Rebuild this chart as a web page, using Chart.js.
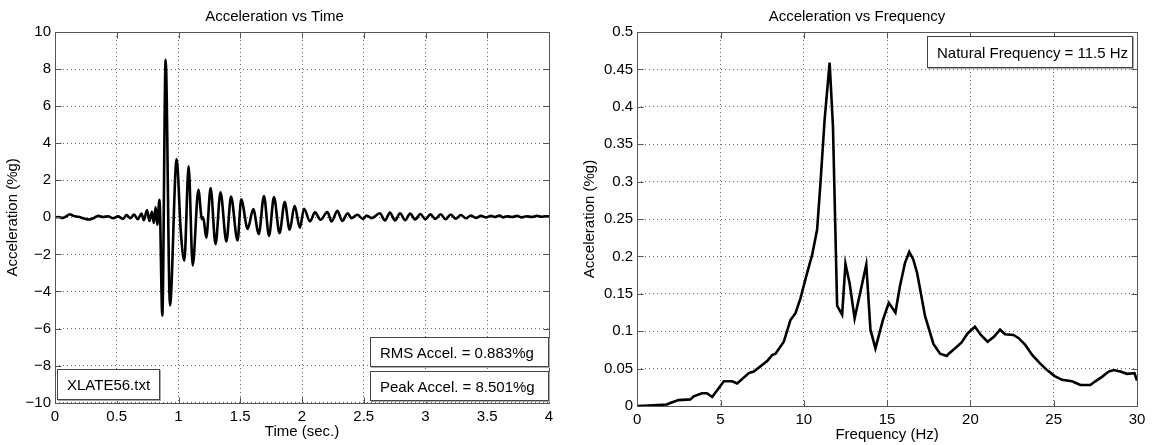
<!DOCTYPE html>
<html><head><meta charset="utf-8">
<script src="https://cdn.jsdelivr.net/npm/chart.js@4.4.1/dist/chart.umd.min.js"></script>
<style>
html,body{margin:0;padding:0;background:#fff;width:1154px;height:445px;overflow:hidden;position:relative;}
canvas{position:absolute;top:0;}
#c1{left:0}
#c2{left:577px}
.box{position:absolute;background:#fff;border:1px solid #444;box-shadow:1px 1px 0 #aaa;font:15px "Liberation Sans",Arial,sans-serif;color:#000;display:flex;align-items:center;white-space:nowrap;box-sizing:border-box;}
</style></head><body>
<canvas id="c1" width="577" height="445"></canvas>
<canvas id="c2" width="577" height="445"></canvas>
<div class="box" style="left:57px;top:369px;width:103px;height:31px;padding-left:9px">XLATE56.txt</div>
<div class="box" style="left:370px;top:337px;width:179px;height:30px;padding-left:9px">RMS Accel. = 0.883%g</div>
<div class="box" style="left:370px;top:371px;width:179px;height:30px;padding-left:9px">Peak Accel. = 8.501%g</div>
<div class="box" style="left:927px;top:36px;width:206px;height:32px;padding-left:9px">Natural Frequency = 11.5 Hz</div>
<script>
// ---- Time series (Acceleration vs Time) ----
const timeSec = [0,0.03,0.06,0.09,0.12,0.15,0.19,0.23,0.27,0.31,0.35,0.39,0.43,0.47,0.51,0.55,0.58,0.61,0.64,0.67,0.70,0.72,0.745,0.765,0.785,0.80,0.815,0.828,0.846,0.869,0.896,0.931,0.985,1.018,1.047,1.082,1.115,1.161,1.19,1.20,1.225,1.26,1.30,1.34,1.388,1.425,1.478,1.508,1.56,1.605,1.65,1.692,1.733,1.773,1.818,1.86,1.90,1.94,1.983,2.016,2.065,2.105,2.151,2.205,2.24,2.286,2.326,2.37,2.40,2.448,2.494,2.524,2.563,2.63,2.672,2.712,2.753,2.794,2.835,2.876,2.917,2.958,2.999,3.04,3.081,3.122,3.163,3.204,3.245,3.286,3.327,3.368,3.409,3.45,3.49,3.53,3.56,3.60,3.63,3.66,3.70,3.74,3.78,3.82,3.86,3.90,3.94,3.97,4.0];
const accelTime = [0,0.02,-0.03,0.05,0.17,0.08,0.03,-0.05,-0.12,-0.05,0.08,0.02,0.06,-0.05,0.05,-0.08,0.12,-0.05,0.15,-0.1,0.2,-0.15,0.4,-0.2,0.3,-0.3,0.55,-0.4,0.95,-5.3,8.5,-4.75,3.15,-0.7,-2.33,2.75,-2.6,1.48,-0.1,0.0,-1.1,1.58,-1.45,1.35,-1.3,1.12,-1.25,0.97,-0.62,0.45,-0.9,1.15,-1.0,1.1,-0.85,0.82,-0.67,0.62,-0.56,0.46,-0.22,0.27,-0.13,0.28,-0.22,0.35,-0.19,0.22,-0.04,0.14,-0.08,0.1,-0.04,0.22,-0.17,0.26,-0.17,0.22,-0.15,0.2,-0.12,0.18,-0.1,0.16,-0.09,0.17,-0.1,0.15,-0.07,0.13,-0.05,0.1,-0.03,0.08,0.0,0.08,0.02,0.1,0.0,0.06,0.02,0.08,0.0,0.06,0.02,0.08,0.03,0.05,0.05];
const timeTicks = [0,0.5,1,1.5,2,2.5,3,3.5,4];
const timeTickLabels = ['0','0.5','1','1.5','2','2.5','3','3.5','4'];
const accTicks = [-10,-8,-6,-4,-2,0,2,4,6,8,10];
const accTickLabels = ['\u221210','\u22128','\u22126','\u22124','\u22122','0','2','4','6','8','10'];

// ---- Spectrum (Acceleration vs Frequency) ----
const freqHz = [0,0.97,1.78,1.98,2.48,3.19,3.39,3.89,4.19,4.5,5.2,5.7,6.0,6.7,7.0,7.8,8.1,8.3,8.8,9.2,9.5,9.8,10.2,10.5,10.8,11.0,11.25,11.55,11.75,12.0,12.3,12.5,12.75,13.05,13.75,14.0,14.3,14.75,15.1,15.5,15.77,16.07,16.33,16.57,16.8,17.28,17.78,18.18,18.58,18.7,19.07,19.47,19.83,20.27,20.63,21.03,21.43,21.78,22.08,22.58,22.88,23.28,23.72,24.18,24.6,25.06,25.5,26.1,26.4,26.6,27.2,27.5,27.9,28.3,28.6,29.0,29.4,29.85,30];
const accelFreq = [0,0.001,0.002,0.004,0.0079,0.0088,0.013,0.017,0.017,0.012,0.033,0.033,0.030,0.044,0.046,0.060,0.068,0.070,0.086,0.115,0.124,0.144,0.178,0.202,0.236,0.298,0.383,0.459,0.374,0.134,0.122,0.190,0.164,0.117,0.189,0.102,0.077,0.115,0.138,0.125,0.160,0.191,0.206,0.196,0.178,0.120,0.083,0.070,0.067,0.070,0.077,0.085,0.097,0.106,0.095,0.086,0.093,0.102,0.096,0.095,0.091,0.082,0.068,0.057,0.048,0.040,0.035,0.033,0.030,0.028,0.028,0.033,0.039,0.046,0.048,0.046,0.043,0.044,0.034];
const freqTicks = [0,5,10,15,20,25,30];
const freqTickLabels = ['0','5','10','15','20','25','30'];
const specTicks = [0,0.05,0.1,0.15,0.2,0.25,0.3,0.35,0.4,0.45,0.5];
const specTickLabels = ['0','0.05','0.1','0.15','0.2','0.25','0.3','0.35','0.4','0.45','0.5'];

const FONT = '"Liberation Sans", Arial, sans-serif';
Chart.defaults.font.family = FONT;
Chart.defaults.color = '#000';

const frameTicks = {
  id: 'frameTicks',
  afterDraw(chart) {
    const {ctx, chartArea: a, scales} = chart;
    ctx.save();
    ctx.strokeStyle = '#555';
    ctx.lineWidth = 1;
    ctx.setLineDash([]);
    const L = Math.round(a.left) + 0.5, R = Math.round(a.right) + 0.5, T = Math.round(a.top) + 0.5, B = Math.round(a.bottom) + 0.5;
    ctx.strokeRect(L, T, R - L, B - T);
    ctx.beginPath();
    scales.x.ticks.forEach(t => {
      const p = Math.round(scales.x.getPixelForValue(t.value)) + 0.5;
      ctx.moveTo(p, B); ctx.lineTo(p, B - 6);
      ctx.moveTo(p, T); ctx.lineTo(p, T + 6);
    });
    scales.y.ticks.forEach(t => {
      const p = Math.round(scales.y.getPixelForValue(t.value)) + 0.5;
      ctx.moveTo(L, p); ctx.lineTo(L + 6, p);
      ctx.moveTo(R, p); ctx.lineTo(R - 6, p);
    });
    ctx.stroke();
    ctx.restore();
  }
};

function makeChart(id, cfg) {
  return new Chart(document.getElementById(id), {
    type: 'line',
    data: { datasets: [{
      data: cfg.xs.map((x, i) => ({x, y: cfg.ys[i]})),
      borderColor: '#000', borderWidth: 2.6, pointRadius: 0,
      tension: cfg.smooth ? 0.4 : 0,
      cubicInterpolationMode: cfg.smooth ? 'monotone' : 'default',
      fill: false
    }]},
    options: {
      responsive: false, animation: false, events: [],
      layout: { padding: { left: 0, right: cfg.padRight, top: 0, bottom: 0 } },
      plugins: {
        legend: { display: false }, tooltip: { enabled: false },
        title: { display: true, text: cfg.title, font: { size: 15, weight: 'normal' }, color: '#000', padding: { top: 8, bottom: 6 } }
      },
      scales: {
        x: {
          type: 'linear', min: cfg.xTicks[0], max: cfg.xTicks[cfg.xTicks.length - 1],
          afterBuildTicks: s => { s.ticks = cfg.xTicks.map(v => ({value: v})); },
          afterFit: s => { s.height = cfg.xAxisH; },
          ticks: { callback: (v, i) => cfg.xLabels[i], font: { size: 15 }, color: '#000', padding: 5, maxRotation: 0, autoSkip: false },
          grid: { color: '#6a6a6a', lineWidth: 1, drawTicks: false },
          border: { display: false, dash: [1, 3] },
          title: { display: true, text: cfg.xTitle, font: { size: 15 }, color: '#000', padding: { top: 0, bottom: cfg.xTitlePad } }
        },
        y: {
          type: 'linear', min: cfg.yTicks[0], max: cfg.yTicks[cfg.yTicks.length - 1],
          afterBuildTicks: s => { s.ticks = cfg.yTicks.map(v => ({value: v})); },
          afterFit: s => { s.width = cfg.yAxisW; },
          ticks: { callback: (v, i) => cfg.yLabels[i], font: { size: 15 }, color: '#000', padding: 4, autoSkip: false },
          grid: { color: '#6a6a6a', lineWidth: 1, drawTicks: false },
          border: { display: false, dash: [1, 3] },
          title: { display: true, text: 'Acceleration (%g)', font: { size: 15 }, color: '#000', padding: { top: 4, bottom: 0 } }
        }
      }
    },
    plugins: [frameTicks]
  });
}

makeChart('c1', {
  xs: timeSec, ys: accelTime, smooth: true, title: 'Acceleration vs Time', xTitle: 'Time (sec.)',
  xTicks: timeTicks, xLabels: timeTickLabels, yTicks: accTicks, yLabels: accTickLabels,
  padRight: 28, xAxisH: 42.3, yAxisW: 55, xTitlePad: 4
});
makeChart('c2', {
  xs: freqHz, ys: accelFreq, smooth: false, title: 'Acceleration vs Frequency', xTitle: 'Frequency (Hz)',
  xTicks: freqTicks, xLabels: freqTickLabels, yTicks: specTicks, yLabels: specTickLabels,
  padRight: 17, xAxisH: 39, yAxisW: 60.2, xTitlePad: 1
});
</script>
</body></html>
